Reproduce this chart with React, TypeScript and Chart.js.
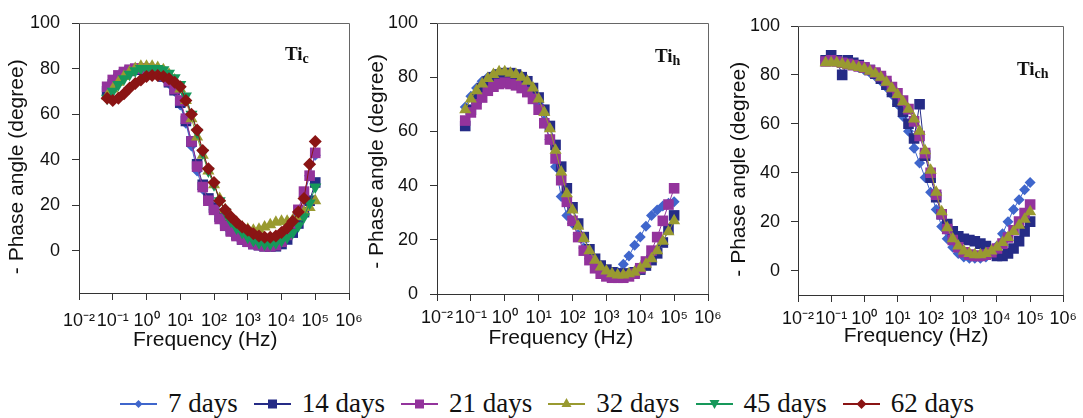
import React, { useEffect, useRef } from 'react';
import { Chart, registerables } from 'chart.js';

Chart.register(...registerables);

// ---------- data ----------
const frequencies = [
  0.0681, 0.1, 0.147, 0.215, 0.316, 0.464, 0.681, 1, 1.47, 2.15, 3.16, 4.64, 6.81,
  10, 14.7, 21.5, 31.6, 46.4, 68.1, 100, 147, 215, 316, 464, 681, 1000, 1470, 2150,
  3160, 4640, 6810, 10000, 14700, 21500, 31600, 46400, 68100, 100000,
];

const seriesNames = ['7 days', '14 days', '21 days', '32 days', '45 days', '62 days'];

const xTickValues = [1e-2, 1e-1, 1e0, 1e1, 1e2, 1e3, 1e4, 1e5, 1e6];
const xTickLabels = ['10⁻²', '10⁻¹', '10⁰', '10¹', '10²', '10³', '10⁴', '10⁵', '10⁶'];
const yTickValues = [0, 20, 40, 60, 80, 100];

// Ti_c panel
const tiC_7d = [71, 74, 76, 78, 79, 79.5, 80, 79.5, 79, 78, 76, 73.5, 70, 64, 56, 46, 35, 27, 22, 18, 14, 11, 8.5, 6.5, 5, 4, 3, 2.5, 2.5, 2.5, 3, 4, 7, 11, 16, 24, 33, 42];
const tiC_14d = [70, 73, 75.5, 77.5, 79, 79.5, 79.5, 79.5, 79, 78, 76.5, 74, 70.5, 65, 57, 48, 38, 29, 23, 19, 15, 12, 9, 7, 5, 4, 3, 2.5, 2, 2, 2, 3, 5, 8, 12, 17, 22, 30];
const tiC_21d = [72, 75, 77, 78.5, 79.5, 80, 80, 80, 79.5, 78.5, 77, 74.5, 71, 66, 58, 48, 37, 28, 22, 18, 14, 11, 8.5, 6.5, 5, 4, 3, 2.5, 2, 2, 2.5, 4, 7, 12, 18, 26, 33, 43];
const tiC_32d = [68, 71, 74, 76.5, 78.5, 80, 81, 81, 81, 80.5, 79.5, 77.5, 75, 71, 66, 58, 50, 42, 35, 29, 23, 18, 15, 12.5, 10.5, 9.5, 9, 9.5, 10.5, 11.5, 12.5, 13, 13, 13.5, 15, 17, 19, 22];
const tiC_45d = [67, 70, 73, 75.5, 77.5, 79, 80, 80, 80, 80, 79.5, 78, 76, 73, 68, 60, 52, 43, 35, 29, 22, 17, 13, 10, 8, 6, 4.5, 3.5, 3, 3, 3.5, 4.5, 6, 8, 11, 15, 21, 28];
const tiC_62d = [67, 66, 67, 69, 71.5, 73.5, 75, 76.5, 77, 77, 76.5, 75.5, 74, 72, 66, 60, 53, 44, 36, 30, 22, 18, 15, 12.5, 10.5, 9, 7.5, 6.5, 6, 6, 6.5, 8, 10, 13, 17, 23, 38, 48];

// Ti_h panel
const tiH_7d = [69, 73, 76, 78.5, 80, 81, 81.5, 81.5, 81, 80.5, 79, 77, 74, 70, 64, 57, 47, 36, 29, 26, 22, 17, 13, 10, 8, 7.5, 7.5, 8, 11, 14, 18, 21, 25, 29, 31, 32.5, 33.5, 34];
const tiH_14d = [62, 68, 72, 76, 78.5, 80, 81, 81.5, 81.5, 81, 80, 78.5, 76, 72.5, 68, 62, 55, 47, 39, 32, 26, 21, 16.5, 13, 10.5, 9, 8, 7.5, 7.5, 7.5, 8, 9, 10.5, 12.5, 15, 19, 24, 29];
const tiH_21d = [64, 67, 70, 72.5, 75, 76.5, 77.5, 78, 77.5, 77, 76, 74.5, 72, 68, 63, 57, 50, 42, 34, 27, 21, 16, 12.5, 9.5, 7.5, 6.5, 6, 6, 6, 6.5, 7.5, 9.5, 12, 16, 21, 27, 33, 39];
const tiH_32d = [68, 72, 75, 77.5, 79.5, 81, 82, 82, 81.5, 81, 80, 78.5, 76, 72, 67, 61, 53, 45, 37, 31, 25, 20.5, 16, 12.5, 10, 8.5, 7.5, 7, 7, 7.5, 8, 9.5, 11, 13, 16, 19.5, 23, 27];

// Ti_ch panel
const tiCH_7d = [86, 86, 85.5, 85, 84.5, 84, 83, 82, 81, 79.5, 77.5, 75, 72, 68, 63, 57, 50, 44, 38, 32, 25, 18, 13, 9.5, 7, 5.5, 5, 5, 5, 5.5, 7, 10, 15, 20, 25, 29, 33, 36];
const tiCH_14d = [86, 88, 86, 80, 86, 85, 84, 83, 82, 80.5, 78.5, 76, 73, 69, 65, 60, 54, 68, 47, 38, 30, 23, 19, 16, 14, 13, 12.5, 12, 11, 10, 8, 6, 6, 7, 9, 12, 16, 20];
const tiCH_21d = [85.5, 86, 85.5, 85, 84.5, 84, 83.5, 83, 82, 81, 79.5, 77.5, 75, 72.5, 69.5, 66, 61, 55, 48, 40, 31, 23, 17, 12.5, 9.5, 7.5, 6.5, 6, 6, 6.5, 7.5, 9, 11, 13.5, 16.5, 20, 23.5, 27];
const tiCH_32d = [85, 85, 85, 84.5, 84, 83.5, 83, 82.5, 81.5, 80.5, 79, 77, 74.5, 72, 69, 66, 62, 57, 49, 41, 32, 24, 17.5, 13, 10, 8, 7, 6.5, 6.5, 7, 8, 9.5, 11.5, 13.5, 16, 18.5, 21, 24];

// ---------- styles ----------
const seriesColors = ['#3f66cc', '#252b86', '#93339c', '#999a30', '#16985a', '#8a1414'];
const seriesPointStyles = ['rectRot', 'rect', 'rect', 'triangle', 'triangle', 'rectRot'];
const seriesRotations = [0, 0, 0, 0, 180, 0];
const seriesRadii = [5.5, 7.5, 7.5, 7, 7, 6.5];

const SANS = '"Liberation Sans", Arial, Helvetica, sans-serif';
const SERIF = '"Liberation Serif", "Times New Roman", Times, serif';

const panels = [
  {
    left: 0, width: 380, height: 360, padTop: 23, padRight: 31, yWidth: 79, xHeight: 67, yMin: -18.5,
    data: [tiC_7d, tiC_14d, tiC_21d, tiC_32d, tiC_45d, tiC_62d], series: [0, 1, 2, 3, 4, 5],
    label: { main: 'Ti', sub: 'c', x: 285, y: 60 },
    xTickPad: 10, yTickPad: 12, xTitlePad: 7.4, yTitlePad: 4.4,
    xTitle: 'Frequency (Hz)   ', yTitle: '- Phase angle (degree)   ',
  },
  {
    left: 358, width: 380, height: 360, padTop: 23, padRight: 30, yWidth: 79, xHeight: 66, yMin: 0,
    data: [tiH_7d, tiH_14d, tiH_21d, tiH_32d], series: [0, 1, 2, 3],
    label: { main: 'Ti', sub: 'h', x: 297, y: 62 },
    xTickPad: 6, yTickPad: 12, xTitlePad: 8.9, yTitlePad: 6.4,
    xTitle: 'Frequency (Hz)    ', yTitle: '- Phase angle (degree) ',
  },
  {
    left: 719, width: 364, height: 360, padTop: 26, padRight: 14, yWidth: 79, xHeight: 65, yMin: -10,
    data: [tiCH_7d, tiCH_14d, tiCH_21d, tiCH_32d], series: [0, 1, 2, 3],
    label: { main: 'Ti', sub: 'ch', x: 298, y: 75 },
    xTickPad: 6, yTickPad: 11, xTitlePad: 10.9, yTitlePad: 7.4,
    xTitle: 'Frequency (Hz)     ', yTitle: '- Phase angle (degree)   ',
  },
];

const framePlugin = {
  id: 'frameAndLabel',
  afterDraw(chart: any, _args: any, opts: any) {
    const { ctx, chartArea } = chart;
    ctx.save();
    ctx.strokeStyle = '#666';
    ctx.lineWidth = 1;
    ctx.beginPath();
    ctx.moveTo(chartArea.left, Math.round(chartArea.top) + 0.5);
    ctx.lineTo(Math.round(chartArea.right) + 0.5, Math.round(chartArea.top) + 0.5);
    ctx.lineTo(Math.round(chartArea.right) + 0.5, chartArea.bottom);
    ctx.stroke();
    if (opts && opts.main) {
      ctx.fillStyle = '#111';
      ctx.textBaseline = 'alphabetic';
      ctx.textAlign = 'left';
      ctx.font = `bold 19px ${SERIF}`;
      ctx.fillText(opts.main, opts.x, opts.y);
      const w = ctx.measureText(opts.main).width;
      ctx.font = `bold 14px ${SERIF}`;
      ctx.fillText(opts.sub, opts.x + w, opts.y + 3);
    }
    ctx.restore();
  },
};

function Panel({ cfg }: { cfg: any }) {
  const ref = useRef<HTMLCanvasElement>(null);
  useEffect(() => {
    if (!ref.current) return;
    const datasets = cfg.series.map((s: number, k: number) => ({
      label: seriesNames[s],
      data: frequencies.map((f, i) => ({ x: f, y: cfg.data[k][i] })),
      borderColor: seriesColors[s],
      backgroundColor: seriesColors[s],
      borderWidth: 1,
      pointStyle: seriesPointStyles[s],
      rotation: seriesRotations[s],
      pointRadius: seriesRadii[s],
      pointBorderWidth: 0,
      showLine: true,
      order: 10 - s,
    }));
    const chart = new Chart(ref.current, {
      type: 'line',
      data: { datasets },
      plugins: [framePlugin],
      options: {
        animation: false,
        responsive: false,
        devicePixelRatio: 1,
        layout: { padding: { top: cfg.padTop, right: cfg.padRight, left: 0, bottom: 0 } },
        plugins: {
          legend: { display: false },
          tooltip: { enabled: false },
          frameAndLabel: cfg.label,
        } as any,
        scales: {
          x: {
            type: 'logarithmic',
            min: 0.01,
            max: 1e6,
            afterBuildTicks: (s: any) => {
              s.ticks = xTickValues.map((v) => ({ value: v }));
            },
            afterFit: (s: any) => {
              s.height = cfg.xHeight;
            },
            ticks: {
              autoSkip: false,
              maxRotation: 0,
              minRotation: 0,
              padding: cfg.xTickPad,
              color: '#111',
              font: { family: SANS, size: 18 },
              callback: (_v: any, i: number) => xTickLabels[i],
            },
            grid: { display: true, drawOnChartArea: false, drawTicks: true, tickLength: 7, color: '#333' },
            border: { display: true, color: '#333', width: 1 },
            title: {
              display: true,
              text: cfg.xTitle,
              color: '#111',
              font: { family: SANS, size: 21 },
              padding: cfg.xTitlePad,
            },
          },
          y: {
            type: 'linear',
            min: cfg.yMin,
            max: 100,
            afterBuildTicks: (s: any) => {
              s.ticks = yTickValues.map((v) => ({ value: v }));
            },
            afterFit: (s: any) => {
              s.width = cfg.yWidth;
            },
            ticks: {
              padding: cfg.yTickPad,
              color: '#111',
              font: { family: SANS, size: 18 },
            },
            grid: { display: true, drawOnChartArea: false, drawTicks: true, tickLength: 7, color: '#333' },
            border: { display: true, color: '#333', width: 1 },
            title: {
              display: true,
              text: cfg.yTitle,
              color: '#111',
              font: { family: SANS, size: 21 },
              padding: cfg.yTitlePad,
            },
          },
        },
      } as any,
    });
    return () => chart.destroy();
  }, [cfg]);
  return (
    <canvas
      ref={ref}
      width={cfg.width}
      height={cfg.height}
      style={{ position: 'absolute', left: cfg.left, top: 0, width: cfg.width, height: cfg.height }}
    />
  );
}

function Marker({ s }: { s: number }) {
  const c = seriesColors[s];
  const cx = 18.5;
  const cy = 10;
  let shape: any = null;
  if (s === 0) shape = <polygon points={`${cx},${cy - 4} ${cx + 4},${cy} ${cx},${cy + 4} ${cx - 4},${cy}`} fill={c} />;
  else if (s === 1 || s === 2) shape = <rect x={cx - 4.5} y={cy - 4.5} width={9} height={9} fill={c} />;
  else if (s === 3) shape = <polygon points={`${cx},${cy - 6} ${cx + 5},${cy + 3} ${cx - 5},${cy + 3}`} fill={c} />;
  else if (s === 4) shape = <polygon points={`${cx},${cy + 5} ${cx + 5},${cy - 4} ${cx - 5},${cy - 4}`} fill={c} />;
  else shape = <polygon points={`${cx},${cy - 5} ${cx + 5},${cy} ${cx},${cy + 5} ${cx - 5},${cy}`} fill={c} />;
  return (
    <svg width={37} height={20} style={{ display: 'block' }}>
      <line x1={0} y1={cy} x2={37} y2={cy} stroke={c} strokeWidth={2} />
      {shape}
    </svg>
  );
}

export default function App() {
  return (
    <div
      style={{
        position: 'absolute', left: 0, top: 0, width: 1083, height: 418,
        overflow: 'hidden', background: '#fff',
      }}
    >
      {panels.map((p, i) => (
        <Panel key={i} cfg={p} />
      ))}
      <div
        style={{
          position: 'absolute', left: 120, top: 388, height: 31, display: 'flex',
          alignItems: 'center', fontFamily: SERIF, fontSize: 27, lineHeight: '31px',
          color: '#111', whiteSpace: 'nowrap',
        }}
      >
        {seriesNames.map((n, i) => (
          <div key={n} style={{ display: 'flex', alignItems: 'center', marginRight: 16 }}>
            <Marker s={i} />
            <span style={{ marginLeft: 11 }}>{n}</span>
          </div>
        ))}
      </div>
    </div>
  );
}
